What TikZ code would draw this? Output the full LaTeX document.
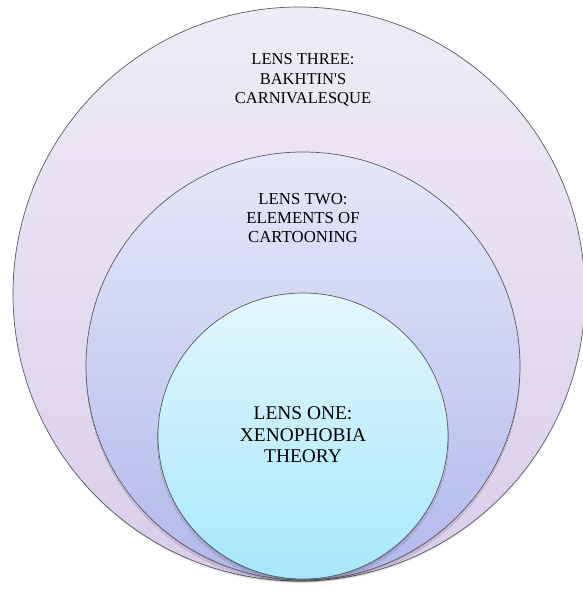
\documentclass[tikz,border=0pt]{standalone}
\usepackage{fontspec}
\setmainfont{Liberation Serif}
\usetikzlibrary{shapes.geometric,shadows.blur}
\definecolor{outl}{HTML}{5A5A60}
\tikzset{
  lens/.style={ellipse, draw=outl, line width=0.7pt, inner sep=0pt,
    blur shadow={shadow xshift=0pt, shadow yshift=-3.5pt, shadow blur radius=2pt, shadow opacity=30, shadow scale=0.99}},
  lbl/.style={align=center, text=black, inner sep=0pt},
}
\begin{document}
\begin{tikzpicture}[x=1pt,y=-1pt]
\useasboundingbox (0,0) rectangle (582,592);
\node[lens, minimum width=572pt, minimum height=574pt, top color={rgb,255:red,239;green,236;blue,246}, bottom color={rgb,255:red,218;green,204;blue,234}] (three) at (299,294) {};
\node[lens, minimum width=434pt, minimum height=428pt, top color={rgb,255:red,230;green,232;blue,248}, bottom color={rgb,255:red,178;green,184;blue,236}] (two) at (303,366) {};
\node[lens, minimum width=290pt, minimum height=286pt, top color={rgb,255:red,228;green,246;blue,252}, bottom color={rgb,255:red,166;green,232;blue,250}] (one) at (303,436) {};
\node[lbl, font=\fontsize{16.5}{19.8}\selectfont] (t3) at (303,80) {LENS THREE:\\BAKHTIN\textquotesingle S\\CARNIVALESQUE};
\node[lbl, font=\fontsize{16.8}{19}\selectfont] (t2) at (303,218) {LENS TWO:\\ELEMENTS OF\\CARTOONING};
\node[lbl, font=\fontsize{19.4}{21.5}\selectfont] (t1) at (303,435) {LENS ONE:\\XENOPHOBIA\\THEORY};
\end{tikzpicture}
\end{document}
